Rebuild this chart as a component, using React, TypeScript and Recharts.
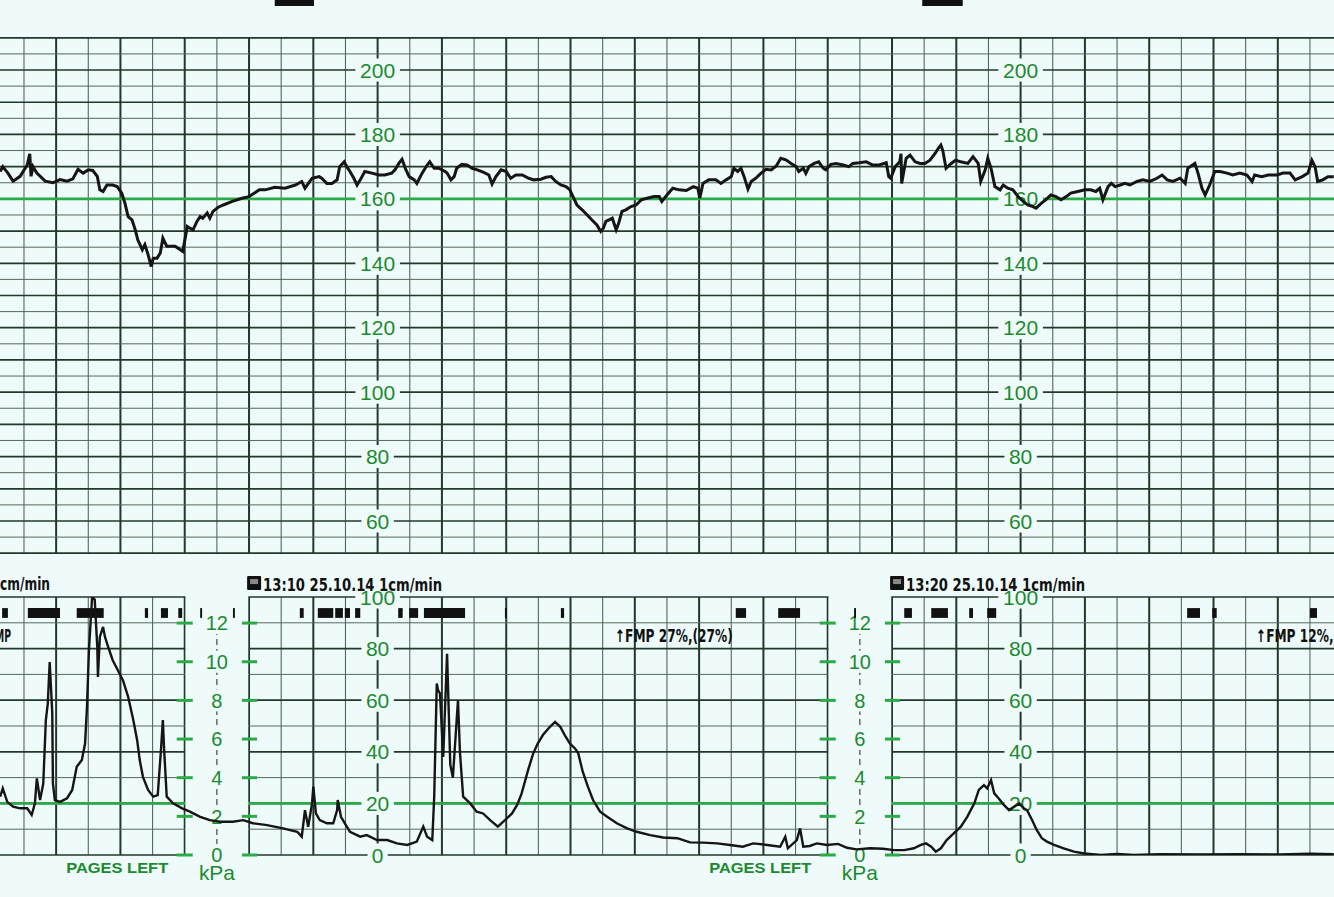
import React from 'react';
import { LineChart, Line, XAxis, YAxis, ReferenceLine, ReferenceArea, ReferenceDot } from 'recharts';

// ---------- palette ----------
const PAPER = '#eefbfa';
const GRID_MAJOR = '#22382a';
const GRID_MINOR = '#55685c';
const GRID_GREEN = '#2bab47';
const LABEL_GREEN = '#1c8a2f';
const TRACE = '#151515';

// x axis: minutes after 13:00 (paper speed 1 cm/min)
const X_DOMAIN: [number, number] = [6.127, 26.874];

// ---------- fetal heart rate (bpm) ----------
const fhrTimes = [
  6.13, 6.17, 6.25, 6.33, 6.44, 6.55, 6.59, 6.61, 6.64, 6.70, 6.83, 6.95, 7.06, 7.17, 7.26, 7.34, 7.42, 7.50, 7.57, 7.64,
  7.68, 7.73, 7.79, 7.88, 7.95, 8.02, 8.07, 8.12, 8.18, 8.23, 8.27, 8.34, 8.38, 8.43, 8.48, 8.51, 8.57, 8.62, 8.66, 8.72,
  8.85, 8.97, 9.04, 9.08, 9.13, 9.19, 9.24, 9.28, 9.35, 9.39, 9.44, 9.52, 9.60, 9.74, 9.89, 10.00, 10.16, 10.25, 10.40, 10.56,
  10.72, 10.82, 10.87, 10.98, 11.09, 11.13, 11.21, 11.29, 11.37, 11.41, 11.48, 11.52, 11.57, 11.63, 11.68, 11.73, 11.80, 11.91, 12.02, 12.11,
  12.22, 12.27, 12.33, 12.38, 12.43, 12.49, 12.57, 12.61, 12.69, 12.77, 12.81, 12.88, 12.95, 13.05, 13.08, 13.14, 13.19, 13.23, 13.31, 13.39,
  13.47, 13.55, 13.65, 13.73, 13.78, 13.84, 13.92, 14.00, 14.07, 14.15, 14.25, 14.35, 14.43, 14.54, 14.62, 14.70, 14.77, 14.85, 14.93, 14.99,
  15.05, 15.10, 15.18, 15.26, 15.33, 15.41, 15.47, 15.51, 15.55, 15.60, 15.65, 15.71, 15.75, 15.80, 15.86, 15.94, 16.02, 16.10, 16.19, 16.30,
  16.38, 16.42, 16.50, 16.59, 16.69, 16.80, 16.91, 16.98, 17.01, 17.06, 17.15, 17.26, 17.34, 17.42, 17.50, 17.54, 17.60, 17.65, 17.70, 17.76,
  17.81, 17.88, 17.96, 18.04, 18.12, 18.20, 18.27, 18.35, 18.43, 18.51, 18.55, 18.62, 18.66, 18.71, 18.79, 18.86, 18.93, 18.97, 19.05, 19.13,
  19.24, 19.33, 19.39, 19.49, 19.60, 19.70, 19.80, 19.91, 19.95, 19.98, 20.05, 20.12, 20.14, 20.15, 20.22, 20.28, 20.36, 20.44, 20.51, 20.59,
  20.67, 20.72, 20.76, 20.79, 20.84, 20.92, 20.99, 21.07, 21.18, 21.26, 21.34, 21.38, 21.45, 21.49, 21.54, 21.60, 21.68, 21.73, 21.80, 21.88,
  21.96, 22.04, 22.11, 22.19, 22.24, 22.32, 22.39, 22.47, 22.55, 22.63, 22.71, 22.78, 22.89, 23.00, 23.09, 23.17, 23.23, 23.28, 23.36, 23.41,
  23.47, 23.55, 23.62, 23.70, 23.81, 23.90, 24.01, 24.12, 24.20, 24.28, 24.37, 24.48, 24.56, 24.60, 24.71, 24.76, 24.82, 24.87, 24.94, 25.02,
  25.10, 25.21, 25.30, 25.41, 25.52, 25.60, 25.64, 25.75, 25.85, 25.99, 26.08, 26.19, 26.27, 26.38, 26.47, 26.53, 26.58, 26.62, 26.70, 26.78,
  26.87,
];
const fhrBpm = [
  168.5, 170, 168, 165.5, 167, 170.5, 174, 167, 170, 168, 165.5, 165, 166, 165.5, 166.2, 169.2, 168, 169, 168.8, 167,
  162.8, 162.3, 164.3, 164.3, 163.8, 161.8, 158.7, 154.5, 153.5, 150.4, 147.3, 144.2, 145.8, 142.7, 139, 141.6, 141.6, 143.2, 147.8, 145.3,
  145.3, 143.7, 151.4, 150.9, 150.4, 153, 154.5, 154, 155.6, 154, 156.1, 157.4, 158.1, 159.2, 160.2, 160.7, 162.8, 162.8, 163.6, 163.3,
  164.3, 165.4, 163.3, 166.4, 166.9, 166.4, 164.8, 164.8, 165.9, 170, 171.5, 170, 168.5, 166.4, 164.3, 165.9, 168.5, 168, 167.4, 167.4,
  168, 169, 171, 172.3, 169.5, 166.9, 165.9, 164.8, 167.9, 170.5, 171.5, 169.5, 169.5, 168.5, 168, 165.9, 166.9, 169.5, 170.7, 170.5,
  169.5, 169, 168.2, 167.4, 164.6, 166.9, 169, 168.5, 166.4, 167.4, 167.4, 166.4, 165.9, 166.1, 166.7, 166.9, 165.4, 164.3, 163.8, 162.8,
  160.2, 158.1, 156.6, 155, 153.5, 151.9, 149.9, 150.9, 153, 153.5, 154, 150.4, 152.5, 156.1, 156.6, 157.6, 158.1, 159.7, 160.2, 160.7,
  160.7, 159.2, 161.2, 163.3, 162.8, 162.6, 163.8, 163.3, 160.2, 164.8, 165.9, 165.9, 164.8, 165.9, 166.9, 169.5, 168.5, 169.5, 166.9, 163,
  165.4, 166.4, 167.9, 169.2, 169, 170.2, 172.6, 172.1, 171, 170, 168.5, 169.5, 167.9, 170, 171, 171.5, 169.5, 169, 170.7, 171,
  170.5, 170, 171, 171.2, 171.5, 170.5, 170.5, 171.2, 166.9, 166.4, 170, 171.5, 174, 164.8, 172.6, 173.6, 171.5, 171, 171, 172,
  174.1, 175.7, 176.7, 175, 169.5, 171, 172, 171.5, 171, 173.1, 171, 165.4, 169, 172.6, 169.5, 163.8, 162.8, 164.3, 163.3, 162.8,
  160.7, 159.2, 158.1, 157.6, 157.1, 158.6, 159.7, 161.2, 160.7, 159.7, 160.7, 161.8, 162.3, 162.8, 162.8, 162.3, 163.3, 159.7, 163.8, 164.8,
  163.8, 164.3, 164.8, 164.3, 165.4, 165.9, 165.4, 166.4, 167.4, 165.9, 165.4, 166.4, 164.8, 169.5, 171, 167.9, 163.3, 161.2, 164.3, 168.5,
  168.5, 168, 167.4, 168, 167.4, 165.4, 167.4, 166.9, 167.4, 167.4, 168, 168, 165.9, 166.9, 168, 172, 170, 165.4, 165.9, 166.9,
  166.9,
];

// ---------- uterine activity (relative units 0-100) ----------
const tocoTimes = [
  6.13, 6.17, 6.24, 6.33, 6.44, 6.55, 6.62, 6.67, 6.70, 6.75, 6.80, 6.84, 6.87, 6.90, 6.94, 6.95, 6.98, 7.06, 7.17, 7.25,
  7.32, 7.40, 7.45, 7.48, 7.51, 7.56, 7.60, 7.64, 7.65, 7.68, 7.73, 7.76, 7.81, 7.88, 7.96, 8.04, 8.12, 8.20, 8.26, 8.30,
  8.35, 8.43, 8.51, 8.58, 8.63, 8.66, 8.68, 8.72, 8.82, 8.96, 9.08, 9.24, 9.39, 9.55, 9.75, 9.91, 10.06, 10.28, 10.53, 10.75,
  10.82, 10.87, 10.92, 10.98, 11.00, 11.04, 11.10, 11.21, 11.31, 11.37, 11.38, 11.43, 11.49, 11.57, 11.73, 11.83, 11.99, 12.15, 12.30, 12.46,
  12.61, 12.71, 12.77, 12.85, 12.88, 12.92, 12.94, 12.97, 13.02, 13.08, 13.13, 13.17, 13.25, 13.28, 13.33, 13.44, 13.54, 13.64, 13.75, 13.87,
  13.98, 14.09, 14.17, 14.24, 14.34, 14.42, 14.49, 14.57, 14.68, 14.76, 14.84, 14.91, 14.99, 15.07, 15.12, 15.19, 15.27, 15.35, 15.46, 15.57,
  15.72, 15.88, 16.03, 16.24, 16.44, 16.66, 16.86, 17.06, 17.28, 17.48, 17.68, 17.84, 18.06, 18.26, 18.34, 18.38, 18.52, 18.57, 18.62, 18.72,
  18.83, 18.99, 19.16, 19.30, 19.45, 19.66, 19.86, 20.03, 20.19, 20.34, 20.45, 20.53, 20.61, 20.68, 20.76, 20.85, 20.96, 21.07, 21.17, 21.28,
  21.35, 21.43, 21.48, 21.54, 21.59, 21.66, 21.74, 21.82, 21.90, 21.98, 22.05, 22.10, 22.18, 22.25, 22.33, 22.41, 22.52, 22.67, 22.83, 22.99,
  23.25, 23.50, 23.76, 24.17, 24.79, 25.41, 26.03, 26.50, 26.87,
];
const tocoValues = [
  22.6, 25.8, 20.6, 18.7, 18.1, 18.1, 15.5, 20, 29.7, 21.3, 27.7, 52.3, 58.7, 74.8, 55, 27.7, 21.3, 20.6, 22, 25.2,
  34.2, 36.8, 43.2, 57.4, 79.4, 100, 99, 80.6, 69, 84.5, 88.4, 84.5, 80.6, 75.5, 71.6, 67.7, 61.3, 52.3, 44.5, 36.8,
  30.3, 25.2, 22.6, 23.2, 40.6, 52.3, 40.6, 22.6, 20, 18.1, 16.8, 14.8, 13.5, 12.9, 12.9, 13.5, 12.3, 11.6, 10.3, 9,
  7.1, 17.4, 10.9, 20, 26.5, 16.1, 13.5, 12.3, 12.3, 17.4, 21.3, 14.8, 12.3, 9, 7.1, 7.7, 5.8, 5.8, 4.5, 3.9,
  5.2, 11, 7.1, 5.8, 22.6, 66.5, 63.9, 62.6, 38, 78, 35, 30, 60, 40, 22.6, 20, 16.8, 16.1, 13.5, 11,
  13.5, 16.1, 19.4, 23.9, 32.9, 39.4, 43.2, 46.5, 49.7, 51.6, 49.7, 46.5, 43.2, 41.3, 39.4, 32.3, 26.5, 21.3, 16.8, 14.8,
  12.3, 10.3, 9, 7.7, 6.8, 6.5, 4.9, 4.8, 4.5, 3.9, 3.2, 4.5, 3.9, 3.2, 7.1, 2.6, 5.8, 10.3, 3.2, 3.5,
  4.5, 3.9, 4.3, 2.8, 2.2, 2.6, 2.4, 1.9, 1.9, 2.6, 3.9, 4.5, 3.2, 1.3, 2.6, 5.8, 8.4, 11, 14.8, 20,
  25.2, 27.1, 25.8, 29, 23.9, 21.9, 19.4, 17.4, 18.7, 20, 18.1, 17.4, 13.5, 9.7, 6.5, 5.2, 3.9, 2.6, 1.3, 0.6,
  0, 0.4, 0, 0.3, 0.2, 0.3, 0.2, 0.5, 0.3,
];

// ---------- printed scales & annotations ----------
const fhrTickLabels = [200, 180, 160, 140, 120, 100, 80, 60];
const tocoTickLabels = [100, 80, 60, 40, 20, 0];
const kpaTickLabels = [12, 10, 8, 6, 4, 2, 0];
const scaleColumns = [12, 22];
const kpaColumns = [9.5, 19.5];
const kpaBands: [number, number][] = [[9, 10], [19, 20]];
const fhrGreenLines = [160];
const tocoGreenLines = [20];
const fmMarks: [number, number][] = [
  [6.16, 6.25], [6.56, 7.06], [7.32, 7.74], [8.38, 8.43], [8.63, 8.74], [8.9, 8.96], [9.24, 9.27], [9.75, 9.78],
  [10.79, 10.85], [11.07, 11.31], [11.34, 11.46], [11.49, 11.57], [11.65, 11.73], [12.32, 12.39], [12.49, 12.63],
  [12.72, 13.36], [13.98, 14.01], [14.85, 14.9], [17.57, 17.73], [18.23, 18.57], [19.41, 19.44], [20.19, 20.31],
  [20.61, 20.87], [21.2, 21.26], [21.48, 21.62], [24.59, 24.79], [24.98, 25.05], [26.5, 26.61],
];
const pageMarks: [number, number][] = [[10.4, 11.01], [20.47, 21.1]];
const timeStamps = [
  { t: 9.97, text: '13:10  25.10.14  1cm/min' },
  { t: 19.97, text: '13:20  25.10.14  1cm/min' },
];
const fmpNotes = [
  { t: 15.69, text: '↑FMP  27%,(27%)' },
  { t: 25.66, text: '↑FMP  12%,(12%)' },
];
const pagesLeftAt = [7.95, 17.95];

const halfMinutes = Array.from({ length: 41 }, (_, i) => 6.5 + i * 0.5);
const fhrGrid = Array.from({ length: 33 }, (_, i) => 50 + i * 5);
const tocoGrid = Array.from({ length: 11 }, (_, i) => i * 10);

const fhrData = fhrTimes.map((t, i) => ({ t, bpm: fhrBpm[i] }));
const tocoData = tocoTimes.map((t, i) => ({ t, ua: tocoValues[i] }));

const SANS = "'Liberation Sans', Arial, sans-serif";
const COND = "'DejaVu Sans Condensed', 'Liberation Sans Narrow', 'Liberation Sans', sans-serif";

const scaleLabel = (text: string, size: number) => (p: any) => {
  const w = text.length * size * 0.58 + 8;
  return (
    <g>
      <rect x={p.cx - w / 2} y={p.cy - size * 0.55} width={w} height={size * 1.1} fill={PAPER} />
      <text x={p.cx} y={p.cy} dy="0.36em" textAnchor="middle" fontSize={size} fill={LABEL_GREEN} fontFamily={SANS}>
        {text}
      </text>
    </g>
  );
};

const stampShape = (text: string) => (p: any) => (
  <g>
    <rect x={p.cx} y={p.cy - 7} width={14} height={14} rx={1} fill="#111" />
    <rect x={p.cx + 3} y={p.cy - 4} width={8} height={5} fill="#888" />
    <text x={p.cx + 16} y={p.cy + 8} fontSize={18} fontWeight="bold" fill="#111" fontFamily={COND}
      textLength={179} lengthAdjust="spacingAndGlyphs">
      {text}
    </text>
  </g>
);

const noteShape = (text: string, len: number, anchor: 'start' | 'end' = 'start') => (p: any) => (
  <text x={p.cx} y={p.cy + 7} fontSize={17} fontWeight="bold" fill="#111" fontFamily={COND}
    textAnchor={anchor} textLength={len} lengthAdjust="spacingAndGlyphs">
    {text}
  </text>
);

const greenText = (text: string, size: number, len: number, weight = 'normal') => (p: any) => (
  <text x={p.cx} y={p.cy} dy="0.36em" textAnchor="middle" fontSize={size} fill={LABEL_GREEN} fontFamily={SANS}
    fontWeight={weight} textLength={len} lengthAdjust="spacingAndGlyphs">
    {text}
  </text>
);

export default function App() {
  return (
    <div style={{ position: 'absolute', left: 0, top: 0, width: 1334, height: 897, background: PAPER, overflow: 'hidden' }}>
      {/* ---------- FHR panel ---------- */}
      <div style={{ position: 'absolute', left: 0, top: 0 }}>
        <LineChart width={1334} height={560} data={fhrData} margin={{ top: 37.8, right: 0, bottom: 6.8, left: 0 }}>
          <XAxis type="number" dataKey="t" domain={X_DOMAIN} allowDataOverflow hide />
          <YAxis type="number" domain={[50, 210]} allowDataOverflow hide />
          {halfMinutes.map((m) => {
            const major = Number.isInteger(m);
            return (
              <ReferenceLine key={`fv${m}`} x={m} stroke={major ? GRID_MAJOR : GRID_MINOR}
                strokeWidth={major ? 2 : 1.1} zIndex={10} />
            );
          })}
          {fhrGrid.map((v) => {
            const major = v % 10 === 0;
            return (
              <ReferenceLine key={`fh${v}`} y={v} stroke={major ? GRID_MAJOR : GRID_MINOR}
                strokeWidth={major ? 1.7 : 1} zIndex={10} />
            );
          })}
          {fhrGreenLines.map((v) => (
            <ReferenceLine key={`fg${v}`} y={v} stroke={GRID_GREEN} strokeWidth={2.6} zIndex={11} />
          ))}
          {scaleColumns.map((c) =>
            fhrTickLabels.map((v) => (
              <ReferenceDot key={`fl${c}-${v}`} x={c} y={v} r={1} ifOverflow="visible" zIndex={30}
                shape={scaleLabel(String(v), 21)} />
            ))
          )}
          {pageMarks.map(([a, b]) => (
            <ReferenceArea key={`pm${a}`} x1={a} x2={b} y1={219.9} y2={221.8} fill="#111" fillOpacity={1}
              stroke="none" ifOverflow="visible" zIndex={30} />
          ))}
          <Line type="linear" dataKey="bpm" stroke={TRACE} strokeWidth={3} dot={false} activeDot={false}
            isAnimationActive={false} zIndex={40} />
        </LineChart>
      </div>

      {/* ---------- uterine activity panel ---------- */}
      <div style={{ position: 'absolute', left: 0, top: 560 }}>
        <LineChart width={1334} height={337} data={tocoData} margin={{ top: 37, right: 0, bottom: 42, left: 0 }}>
          <XAxis type="number" dataKey="t" domain={X_DOMAIN} allowDataOverflow hide />
          <YAxis yAxisId="ua" type="number" domain={[0, 100]} allowDataOverflow hide />
          <YAxis yAxisId="kpa" type="number" domain={[0, 13.35]} allowDataOverflow hide />
          {halfMinutes.map((m) => {
            const major = Number.isInteger(m);
            return (
              <ReferenceLine key={`tv${m}`} yAxisId="ua" x={m} stroke={major ? GRID_MAJOR : GRID_MINOR}
                strokeWidth={major ? 2 : 1.1} zIndex={10} />
            );
          })}
          {tocoGrid.map((v) => {
            const major = v % 20 === 0;
            return (
              <ReferenceLine key={`th${v}`} yAxisId="ua" y={v} stroke={major ? GRID_MAJOR : GRID_MINOR}
                strokeWidth={major ? 1.7 : 1} zIndex={10} />
            );
          })}
          {tocoGreenLines.map((v) => (
            <ReferenceLine key={`tg${v}`} yAxisId="ua" y={v} stroke={GRID_GREEN} strokeWidth={2.6} zIndex={11} />
          ))}
          {kpaBands.map(([a, b]) => (
            <ReferenceArea key={`band${a}`} yAxisId="ua" x1={a + 0.012} x2={b - 0.012} y1={-0.5} y2={100.5}
              fill={PAPER} fillOpacity={1} stroke="none" ifOverflow="visible" zIndex={20} />
          ))}
          {kpaColumns.map((c) => (
            <ReferenceLine key={`kd${c}`} yAxisId="kpa" segment={[{ x: c, y: 0 }, { x: c, y: 12 }]}
              stroke="#3b4a40" strokeWidth={1.2} strokeDasharray="6 4" zIndex={21} />
          ))}
          {kpaBands.map(([a, b]) =>
            kpaTickLabels.map((v) => (
              <React.Fragment key={`kt${a}-${v}`}>
                <ReferenceLine yAxisId="kpa" segment={[{ x: a - 0.125, y: v }, { x: a + 0.125, y: v }]}
                  stroke={GRID_GREEN} strokeWidth={3} zIndex={22} />
                <ReferenceLine yAxisId="kpa" segment={[{ x: b - 0.11, y: v }, { x: b + 0.125, y: v }]}
                  stroke={GRID_GREEN} strokeWidth={3} zIndex={22} />
              </React.Fragment>
            ))
          )}
          {kpaColumns.map((c) =>
            kpaTickLabels.map((v) => (
              <ReferenceDot key={`kl${c}-${v}`} yAxisId="kpa" x={c} y={v} r={1} ifOverflow="visible" zIndex={30}
                shape={scaleLabel(String(v), 20)} />
            ))
          )}
          {kpaColumns.map((c) => (
            <ReferenceDot key={`kpa${c}`} yAxisId="ua" x={c} y={-6.8} r={1} ifOverflow="visible" zIndex={30}
              shape={greenText('kPa', 21, 36)} />
          ))}
          {scaleColumns.map((c) =>
            tocoTickLabels.map((v) => (
              <ReferenceDot key={`tl${c}-${v}`} yAxisId="ua" x={c} y={v} r={1} ifOverflow="visible" zIndex={30}
                shape={scaleLabel(String(v), 21)} />
            ))
          )}
          {pagesLeftAt.map((c) => (
            <ReferenceDot key={`pl${c}`} yAxisId="ua" x={c} y={-4.85} r={1} ifOverflow="visible" zIndex={30}
              shape={greenText('PAGES LEFT', 15, 102, '600')} />
          ))}
          {fmMarks.map(([a, b]) => (
            <ReferenceArea key={`fm${a}`} yAxisId="ua" x1={a} x2={b} y1={91.9} y2={95.7} fill="#111"
              fillOpacity={1} stroke="none" zIndex={30} />
          ))}
          {timeStamps.map((s) => (
            <ReferenceDot key={`ts${s.t}`} yAxisId="ua" x={s.t} y={105.4} r={1} ifOverflow="visible" zIndex={30}
              shape={stampShape(s.text)} />
          ))}
          <ReferenceDot yAxisId="ua" x={6.905} y={105.4} r={1} ifOverflow="visible" zIndex={30}
            shape={noteShape('cm/min', 50, 'end')} />
          <ReferenceDot yAxisId="ua" x={6.30} y={85.3} r={1} ifOverflow="visible" zIndex={30}
            shape={noteShape('MP', 16, 'end')} />
          {fmpNotes.map((n) => (
            <ReferenceDot key={`fmp${n.t}`} yAxisId="ua" x={n.t} y={85.3} r={1} ifOverflow="visible" zIndex={30}
              shape={noteShape(n.text, 118)} />
          ))}
          <Line yAxisId="ua" type="linear" dataKey="ua" stroke={TRACE} strokeWidth={2.4} dot={false}
            activeDot={false} isAnimationActive={false} zIndex={40} />
        </LineChart>
      </div>
    </div>
  );
}
